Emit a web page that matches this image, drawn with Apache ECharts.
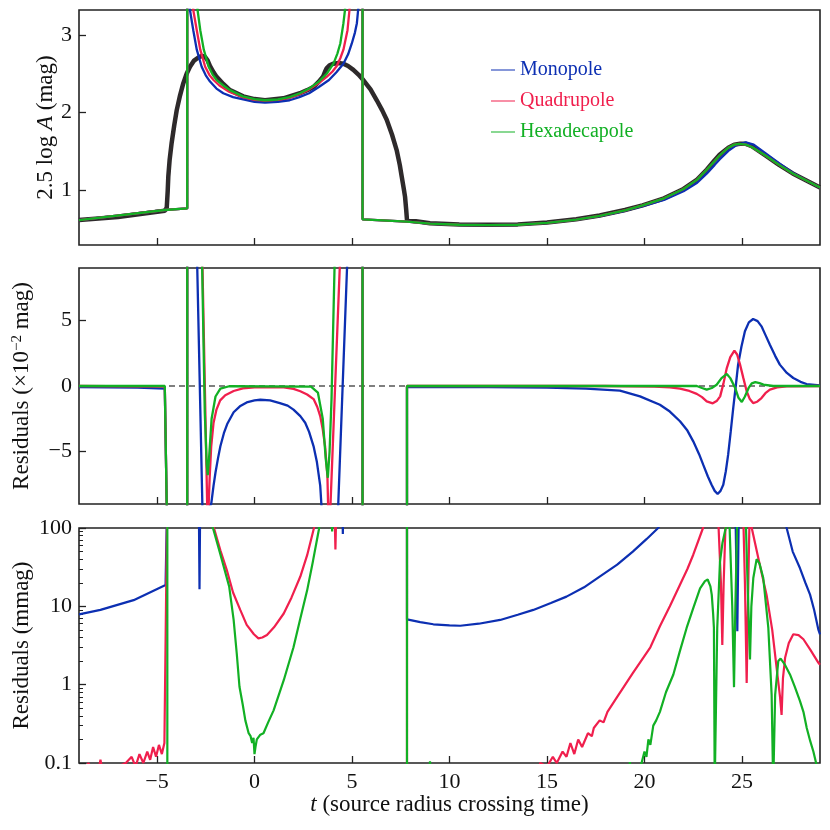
<!DOCTYPE html>
<html>
<head>
<meta charset="utf-8">
<script src="https://cdn.jsdelivr.net/npm/echarts@6/dist/echarts.min.js"></script>
<style>
  html, body { margin: 0; background: #fff; }
  #chart { width: 830px; height: 830px; }
</style>
</head>
<body>
<div id="chart"></div>
<script>
// ticks
var xTicks = [-5, 0, 5, 10, 15, 20, 25];
var magTicks = [1, 2, 3];
var resTicks = [-5, 0, 5];
var logTicks = [0.1, 1, 10, 100];
var logMinorTicks = [0.2, 0.3, 0.4, 0.5, 0.6, 0.7, 0.8, 0.9, 2, 3, 4, 5, 6, 7, 8, 9, 20, 30, 40, 50, 60, 70, 80, 90];

// panel 1: 2.5 log A (mag)
var magData = [[-9,0.62],[-7,0.66],[-4.6,0.74],[-4.5,0.78],[-4.45,1.0],[-4.42,1.18],[-4.35,1.4],[-4.25,1.61],[-4.12,1.83],[-3.99,2.03],[-3.82,2.22],[-3.65,2.38],[-3.48,2.5],[-3.31,2.59],[-3.1,2.67],[-2.88,2.71],[-2.7,2.73],[-2.54,2.72],[-2.4,2.67],[-2.28,2.6],[-2.1,2.52],[-1.94,2.46],[-1.6,2.37],[-1.26,2.29],[-0.58,2.21],[0,2.175],[0.54,2.16],[1.48,2.185],[2.33,2.25],[2.7,2.29],[3.02,2.33],[3.3,2.4],[3.53,2.47],[3.62,2.53],[3.7,2.57],[3.85,2.61],[4.05,2.63],[4.3,2.64],[4.56,2.63],[4.8,2.6],[5.07,2.55],[5.33,2.49],[5.58,2.42],[5.95,2.3],[6.27,2.16],[6.55,2.03],[6.78,1.91],[7.05,1.72],[7.29,1.52],[7.45,1.33],[7.55,1.18],[7.65,1.03],[7.72,0.92],[7.78,0.75],[7.82,0.62],[9,0.58],[10.5,0.565],[12,0.56],[13.5,0.565],[15,0.59],[16.5,0.63],[17.7,0.68],[19,0.75],[19.9,0.81],[21,0.9],[22,1.02],[22.7,1.14],[23.2,1.27],[23.6,1.39],[23.85,1.46],[24.3,1.55],[24.6,1.59],[24.9,1.6],[25.2,1.6],[25.5,1.57],[26.2,1.45],[26.9,1.33],[27.6,1.22],[28.3,1.13],[29,1.04]];
var magModelLeft = [[-9,0.62],[-4.6,0.75],[-3.45,0.77],[-3.45,3.6]];
var magModelRight = [[5.54,3.6],[5.54,0.63],[7.82,0.6]];
var magMonoU = [[-3.38,3.6],[-3.31,3.32],[-3.14,3.06],[-2.96,2.81],[-2.71,2.59],[-2.5,2.48],[-2.28,2.4],[-1.95,2.31],[-1.6,2.25],[-1.1,2.2],[-0.58,2.17],[0,2.14],[0.54,2.13],[1.2,2.14],[1.8,2.16],[2.3,2.2],[2.8,2.25],[3.3,2.33],[3.82,2.42],[4.2,2.52],[4.56,2.63],[4.8,2.75],[4.99,2.89],[5.15,3.03],[5.25,3.15],[5.42,3.6]];
var magQuadU = [[-3.2,3.6],[-3.14,3.32],[-2.96,3.06],[-2.78,2.81],[-2.53,2.59],[-2.3,2.48],[-2.1,2.42],[-1.8,2.35],[-1.3,2.27],[-0.6,2.2],[0,2.165],[0.54,2.155],[1.2,2.165],[1.8,2.19],[2.33,2.24],[2.8,2.3],[3.3,2.38],[3.7,2.46],[4.0,2.53],[4.22,2.6],[4.4,2.7],[4.56,2.81],[4.77,3.06],[4.87,3.32],[4.93,3.6]];
var magHexaU = [[-3.0,3.6],[-2.92,3.32],[-2.78,3.06],[-2.6,2.81],[-2.35,2.59],[-2.15,2.49],[-1.94,2.42],[-1.6,2.35],[-1.26,2.29],[-0.6,2.21],[0,2.175],[0.54,2.16],[1.2,2.17],[1.8,2.2],[2.33,2.25],[2.8,2.31],[3.3,2.4],[3.7,2.5],[4.05,2.63],[4.25,2.76],[4.4,2.89],[4.56,3.15],[4.64,3.32],[4.7,3.6]];
var magMonoBump = [[9,0.575],[10.5,0.56],[12,0.555],[13.5,0.56],[15,0.585],[16.5,0.625],[17.7,0.67],[19,0.74],[19.9,0.8],[21,0.88],[22,0.99],[22.7,1.1],[23.2,1.22],[23.6,1.33],[23.85,1.4],[24.3,1.51],[24.7,1.58],[25.2,1.62],[25.6,1.59],[26.2,1.48],[26.9,1.35],[27.6,1.23],[28.3,1.13],[29,1.04]];
var magQuadHexaBump = [[9,0.575],[10.5,0.56],[12,0.555],[13.5,0.56],[15,0.585],[16.5,0.625],[17.7,0.675],[19,0.745],[19.9,0.81],[21,0.9],[22,1.02],[22.7,1.14],[23.2,1.27],[23.6,1.38],[23.85,1.45],[24.3,1.55],[24.6,1.59],[24.85,1.6],[25.2,1.59],[25.5,1.56],[26.2,1.45],[26.9,1.33],[27.6,1.22],[28.3,1.13],[29,1.04]];

// panel 2: residuals (x10^-2 mag)
var zeroLine = [[-9,0],[29,0]];
var resMono = [[-9,-0.08],[-6,-0.12],[-4.6,-0.2],[-4.47,-12],[-3.45,-12],[-3.45,12],[-2.95,10],[-2.66,-10],[-2.22,-9],[-2.1,-7.6],[-2.0,-6.6],[-1.87,-5.5],[-1.75,-4.6],[-1.57,-3.6],[-1.4,-2.9],[-1.07,-2.0],[-0.75,-1.55],[-0.4,-1.25],[0,-1.1],[0.3,-1.05],[0.8,-1.1],[1.3,-1.3],[1.7,-1.5],[2.0,-1.8],[2.35,-2.3],[2.6,-2.8],[2.8,-3.5],[3.03,-4.6],[3.2,-5.8],[3.37,-7.6],[3.47,-10],[4.27,-10],[4.77,10],[5.54,12],[5.54,-12],[7.82,-12],[7.82,-0.07],[12,-0.08],[15,-0.12],[17,-0.2],[18.74,-0.36],[19.77,-0.79],[20.79,-1.43],[21.3,-1.95],[21.82,-2.69],[22.2,-3.4],[22.5,-4.22],[22.8,-5.2],[23.01,-6.0],[23.25,-6.9],[23.44,-7.53],[23.6,-8.0],[23.75,-8.24],[23.9,-8.0],[24.04,-7.53],[24.17,-6.5],[24.29,-5.24],[24.42,-3.5],[24.55,-1.68],[24.68,0],[24.8,1.63],[24.97,3.0],[25.15,4.17],[25.35,4.85],[25.57,5.11],[25.8,4.95],[26.0,4.55],[26.2,3.9],[26.43,3.15],[26.7,2.3],[26.94,1.63],[27.3,1.0],[27.63,0.61],[28.0,0.32],[28.31,0.15],[29,0.05]];
var resQuad = [[-9,0],[-4.6,-0.05],[-4.47,-12],[-3.45,-12],[-3.45,12],[-2.68,10],[-2.4,-11],[-2.3,-7],[-2.22,-4.6],[-2.1,-2.8],[-1.95,-1.8],[-1.76,-1.1],[-1.5,-0.7],[-1.07,-0.38],[-0.6,-0.18],[0,-0.1],[1.5,-0.1],[2.0,-0.22],[2.35,-0.4],[2.7,-0.65],[3.03,-1.0],[3.22,-1.6],[3.37,-2.3],[3.5,-3.3],[3.62,-4.6],[3.74,-6.9],[3.82,-12],[4.45,12],[5.54,12],[5.54,-12],[7.82,-12],[7.82,0],[18,0],[20.5,-0.05],[21.3,-0.1],[21.82,-0.2],[22.3,-0.38],[22.68,-0.6],[22.95,-0.85],[23.19,-1.17],[23.5,-1.32],[23.7,-1.15],[23.88,-0.79],[24.05,0.2],[24.22,1.37],[24.4,2.2],[24.61,2.69],[24.75,2.4],[24.9,1.63],[25.07,0.6],[25.24,-0.4],[25.4,-1.0],[25.57,-1.3],[25.78,-1.2],[26.0,-0.92],[26.2,-0.55],[26.43,-0.28],[26.8,-0.1],[27.3,-0.03],[29,0]];
var resHexa = [[-9,0],[-4.6,0],[-4.47,-12],[-3.45,-12],[-3.45,12],[-2.72,12],[-2.55,-2],[-2.45,-6],[-2.4,-6.8],[-2.33,-5.5],[-2.2,-2.5],[-2.0,-0.8],[-1.75,-0.2],[-1.3,-0.02],[2.9,-0.05],[3.25,-0.5],[3.5,-2.5],[3.65,-5.5],[3.76,-7],[3.85,-5],[3.95,-1],[4.15,12],[5.54,12],[5.54,-12],[7.82,-12],[7.82,0],[22.68,0],[22.95,-0.15],[23.19,-0.28],[23.45,-0.15],[23.7,0.1],[23.95,0.6],[24.22,0.92],[24.4,0.6],[24.65,-0.15],[24.82,-0.9],[24.99,-1.22],[25.15,-0.8],[25.34,-0.15],[25.5,0.2],[25.68,0.3],[25.9,0.22],[26.1,0.1],[26.6,0],[29,0]];

// panel 3: residuals (mmag), log scale
var logMono = [[-9,7.9],[-7.9,9.0],[-6.2,12],[-4.56,18.7],[-4.47,300],[-2.86,300],[-2.82,16.5],[-2.78,300],[4.5,300],[4.53,84],[4.56,300],[7.82,300],[7.82,6.8],[8.5,6.3],[9.17,5.9],[10,5.7],[10.55,5.65],[11.5,6.0],[12.6,6.7],[13.5,7.8],[14.3,9],[15.2,11],[16,13.3],[16.9,17.5],[17.7,24],[18.6,34],[19.4,50],[20.1,72],[20.7,100],[21.5,200],[24.66,200],[24.76,4.8],[24.84,200],[27,200],[27.29,100],[27.6,50],[27.97,30.8],[28.25,20],[28.49,14.1],[28.7,9],[28.92,5],[29,4.4]];
var logQuad = [[-9,0.07],[-8.5,0.1],[-8.45,0.07],[-8.0,0.08],[-7.9,0.11],[-7.8,0.08],[-7,0.09],[-6.6,0.1],[-6.3,0.12],[-6.1,0.09],[-5.9,0.13],[-5.7,0.1],[-5.5,0.14],[-5.35,0.11],[-5.2,0.16],[-5.05,0.12],[-4.9,0.17],[-4.75,0.13],[-4.62,0.18],[-4.47,300],[-2.3,200],[-2.08,100],[-1.75,52],[-1.42,29],[-1.1,15],[-0.73,9],[-0.4,5.8],[-0.03,4.4],[0.2,3.9],[0.4,4.0],[0.64,4.3],[1.0,5.4],[1.5,8.1],[1.9,13],[2.35,24],[2.7,45],[3.05,100],[3.3,200],[4.1,200],[4.15,53],[4.2,200],[7.82,200],[7.82,0.05],[14.5,0.05],[14.65,0.1],[15.0,0.09],[15.3,0.12],[15.5,0.1],[15.8,0.14],[16.0,0.12],[16.2,0.18],[16.4,0.13],[16.6,0.2],[16.8,0.16],[17.1,0.24],[17.3,0.22],[17.4,0.28],[17.7,0.35],[17.9,0.33],[18.1,0.45],[18.6,0.7],[19.4,1.4],[20.3,3.0],[20.79,5.56],[21.3,10],[21.82,18.9],[22.2,30],[22.5,45.6],[23.0,100],[23.3,200],[23.7,200],[23.8,100],[23.92,20],[23.99,3.2],[24.06,20],[24.15,100],[24.3,200],[25.05,200],[25.15,20],[25.24,1.05],[25.33,25],[25.4,200],[25.45,200],[25.5,100],[25.9,35],[26.26,14],[26.55,5],[26.78,1.6],[26.95,0.7],[27.03,0.41],[27.1,1.2],[27.21,2.2],[27.4,3.4],[27.63,4.4],[27.9,4.3],[28.15,3.8],[28.5,2.8],[28.92,1.9],[29,1.8]];
var logHexa = [[-9,0.05],[-4.47,0.05],[-4.47,300],[-2.4,300],[-2.13,100],[-1.77,48],[-1.3,18],[-1.07,6.7],[-0.91,2.5],[-0.77,0.94],[-0.6,0.55],[-0.47,0.35],[-0.3,0.24],[-0.2,0.22],[-0.12,0.18],[-0.05,0.21],[0,0.13],[0.05,0.16],[0.12,0.2],[0.2,0.19],[0.3,0.23],[0.46,0.24],[0.7,0.33],[0.98,0.47],[1.5,1.14],[2.0,3.0],[2.35,7],[2.7,16],[3.0,38],[3.3,95],[3.5,200],[3.95,200],[3.98,90],[4.01,200],[7.82,200],[7.82,0.05],[8.95,0.05],[9.0,0.105],[9.05,0.05],[19.2,0.05],[19.25,0.103],[19.3,0.05],[19.85,0.1],[20.0,0.14],[20.1,0.12],[20.2,0.2],[20.3,0.17],[20.45,0.3],[20.6,0.35],[20.79,0.45],[21.1,0.8],[21.48,1.35],[21.8,2.6],[22.16,5.3],[22.5,9.5],[22.85,17],[23.1,21],[23.24,22],[23.38,18],[23.45,14],[23.52,8],[23.56,5.3],[23.6,0.05],[23.66,0.05],[23.73,5.3],[23.87,37],[24.0,65],[24.2,110],[24.36,110],[24.5,10],[24.59,0.93],[24.66,10],[24.75,110],[25.2,110],[25.3,15],[25.41,2.1],[25.48,10],[25.58,23],[25.75,40],[25.9,35],[26.09,23],[26.35,5.3],[26.52,0.74],[26.6,0.05],[26.64,0.05],[26.7,0.74],[26.86,2.0],[26.98,2.15],[27.2,1.8],[27.46,1.35],[27.7,0.95],[27.97,0.62],[28.15,0.45],[28.32,0.28],[28.5,0.19],[28.66,0.14],[28.8,0.1],[29,0.05]];

var BLUE = '#0c2fb2', RED = '#f01f4d', GREEN = '#12b024', INK = '#2e2a2b';
var FONT = "'Liberation Serif', serif";

var chart = echarts.init(document.getElementById('chart'));

function minus(v) {
  return v < 0 ? '\u2212' + (-v) : String(v);
}

function xAxis(grid, withLabels) {
  return {
    type: 'value', gridIndex: grid, min: -9, max: 29,
    axisLine: { show: false, onZero: false },
    splitLine: { show: false },
    axisTick: { inside: true, length: 7, customValues: xTicks, lineStyle: { color: '#222', width: 1.3 } },
    axisLabel: { show: withLabels, customValues: xTicks, formatter: minus, fontSize: 22, color: '#111', fontFamily: FONT, margin: 8 }
  };
}

function line(name, data, xi, yi, color, width) {
  return {
    name: name, type: 'line', data: data, xAxisIndex: xi, yAxisIndex: yi,
    symbol: 'none', clip: true, animation: false,
    lineStyle: { color: color, width: width }, itemStyle: { color: color }
  };
}

var rich = {
  r: { fontSize: 23, fontFamily: FONT, color: '#111' },
  i: { fontSize: 23, fontFamily: FONT, fontStyle: 'italic', color: '#111' },
  s: { fontSize: 15, fontFamily: FONT, color: '#111', verticalAlign: 'top', lineHeight: 14 }
};

var option = {
  animation: false,
  textStyle: { fontFamily: FONT },
  grid: [
    { left: 79, right: 10, top: 10, height: 235, show: true, borderColor: '#222', borderWidth: 1.6 },
    { left: 79, right: 10, top: 268, height: 236, show: true, borderColor: '#222', borderWidth: 1.6 },
    { left: 79, right: 10, top: 528, height: 235, show: true, borderColor: '#222', borderWidth: 1.6 }
  ],
  legend: {
    data: [
      { name: 'Monopole', textStyle: { color: BLUE } },
      { name: 'Quadrupole', textStyle: { color: RED } },
      { name: 'Hexadecapole', textStyle: { color: GREEN } }
    ],
    orient: 'vertical', left: 486, top: 55, itemGap: 11,
    icon: 'rect', itemWidth: 24, itemHeight: 1,
    textStyle: { fontSize: 20, fontFamily: FONT }
  },
  xAxis: [
    xAxis(0, false),
    xAxis(1, false),
    Object.assign(xAxis(2, true), {
      name: '{i|t}{r| (source radius crossing time)}',
      nameLocation: 'middle', nameGap: 30, nameMoveOverlap: false,
      nameTextStyle: { rich: rich }
    })
  ],
  yAxis: [
    {
      type: 'value', gridIndex: 0, min: 0.3, max: 3.32,
      axisLine: { show: false, onZero: false }, splitLine: { show: false },
      axisTick: { inside: true, length: 7, customValues: magTicks, lineStyle: { color: '#222', width: 1.3 } },
      axisLabel: { customValues: magTicks, fontSize: 22, color: '#111', fontFamily: FONT, margin: 7 },
      name: '{r|2.5 log }{i|A}{r| (mag)}', nameLocation: 'middle', nameRotate: 90, nameGap: 22,
      nameMoveOverlap: false, nameTextStyle: { rich: rich }
    },
    {
      type: 'value', gridIndex: 1, min: -9, max: 9,
      axisLine: { show: false, onZero: false }, splitLine: { show: false },
      axisTick: { inside: true, length: 7, customValues: resTicks, lineStyle: { color: '#222', width: 1.3 } },
      axisLabel: { customValues: resTicks, formatter: minus, fontSize: 22, color: '#111', fontFamily: FONT, margin: 7 },
      name: '{r|Residuals (\u00d710}{s|\u22122}{r| mag)}', nameLocation: 'middle', nameRotate: 90, nameGap: 46,
      nameMoveOverlap: false, nameTextStyle: { rich: rich }
    },
    {
      type: 'log', logBase: 10, gridIndex: 2, min: 0.1, max: 100,
      axisLine: { show: false, onZero: false }, splitLine: { show: false },
      axisTick: { inside: true, length: 7, customValues: logTicks, lineStyle: { color: '#222', width: 1.3 } },
      axisLabel: {
        customValues: logTicks, fontSize: 22, color: '#111', fontFamily: FONT, margin: 7,
        formatter: function (v) { return v < 0.5 ? '0.1' : String(Math.round(v)); }
      },
      name: '{r|Residuals (mmag)}', nameLocation: 'middle', nameRotate: 90, nameGap: 46,
      nameMoveOverlap: false, nameTextStyle: { rich: rich }
    },
    {
      type: 'log', logBase: 10, gridIndex: 2, min: 0.1, max: 100, position: 'left', offset: 0,
      axisLine: { show: false, onZero: false }, splitLine: { show: false },
      axisTick: { inside: true, length: 4, customValues: logMinorTicks, lineStyle: { color: '#222', width: 1 } },
      axisLabel: { show: false }
    }
  ],
  series: [
    line('data', magData, 0, 0, INK, 4.5),
    line('Monopole', magModelLeft.concat(magMonoU, magModelRight, magMonoBump), 0, 0, BLUE, 2.3),
    line('Quadrupole', magModelLeft.concat(magQuadU, magModelRight, magQuadHexaBump), 0, 0, RED, 2.3),
    line('Hexadecapole', magModelLeft.concat(magHexaU, magModelRight, magQuadHexaBump), 0, 0, GREEN, 2.3),

    Object.assign(line('zero', zeroLine, 1, 1, '#555', 1.4), { lineStyle: { color: '#555', width: 1.4, type: [6, 4] } }),
    line('Monopole', resMono, 1, 1, BLUE, 2.3),
    line('Quadrupole', resQuad, 1, 1, RED, 2.3),
    line('Hexadecapole', resHexa, 1, 1, GREEN, 2.3),

    line('Monopole', logMono, 2, 2, BLUE, 2.2),
    line('Quadrupole', logQuad, 2, 2, RED, 2.2),
    line('Hexadecapole', logHexa, 2, 2, GREEN, 2.2)
  ]
};

chart.setOption(option);
</script>
</body>
</html>
